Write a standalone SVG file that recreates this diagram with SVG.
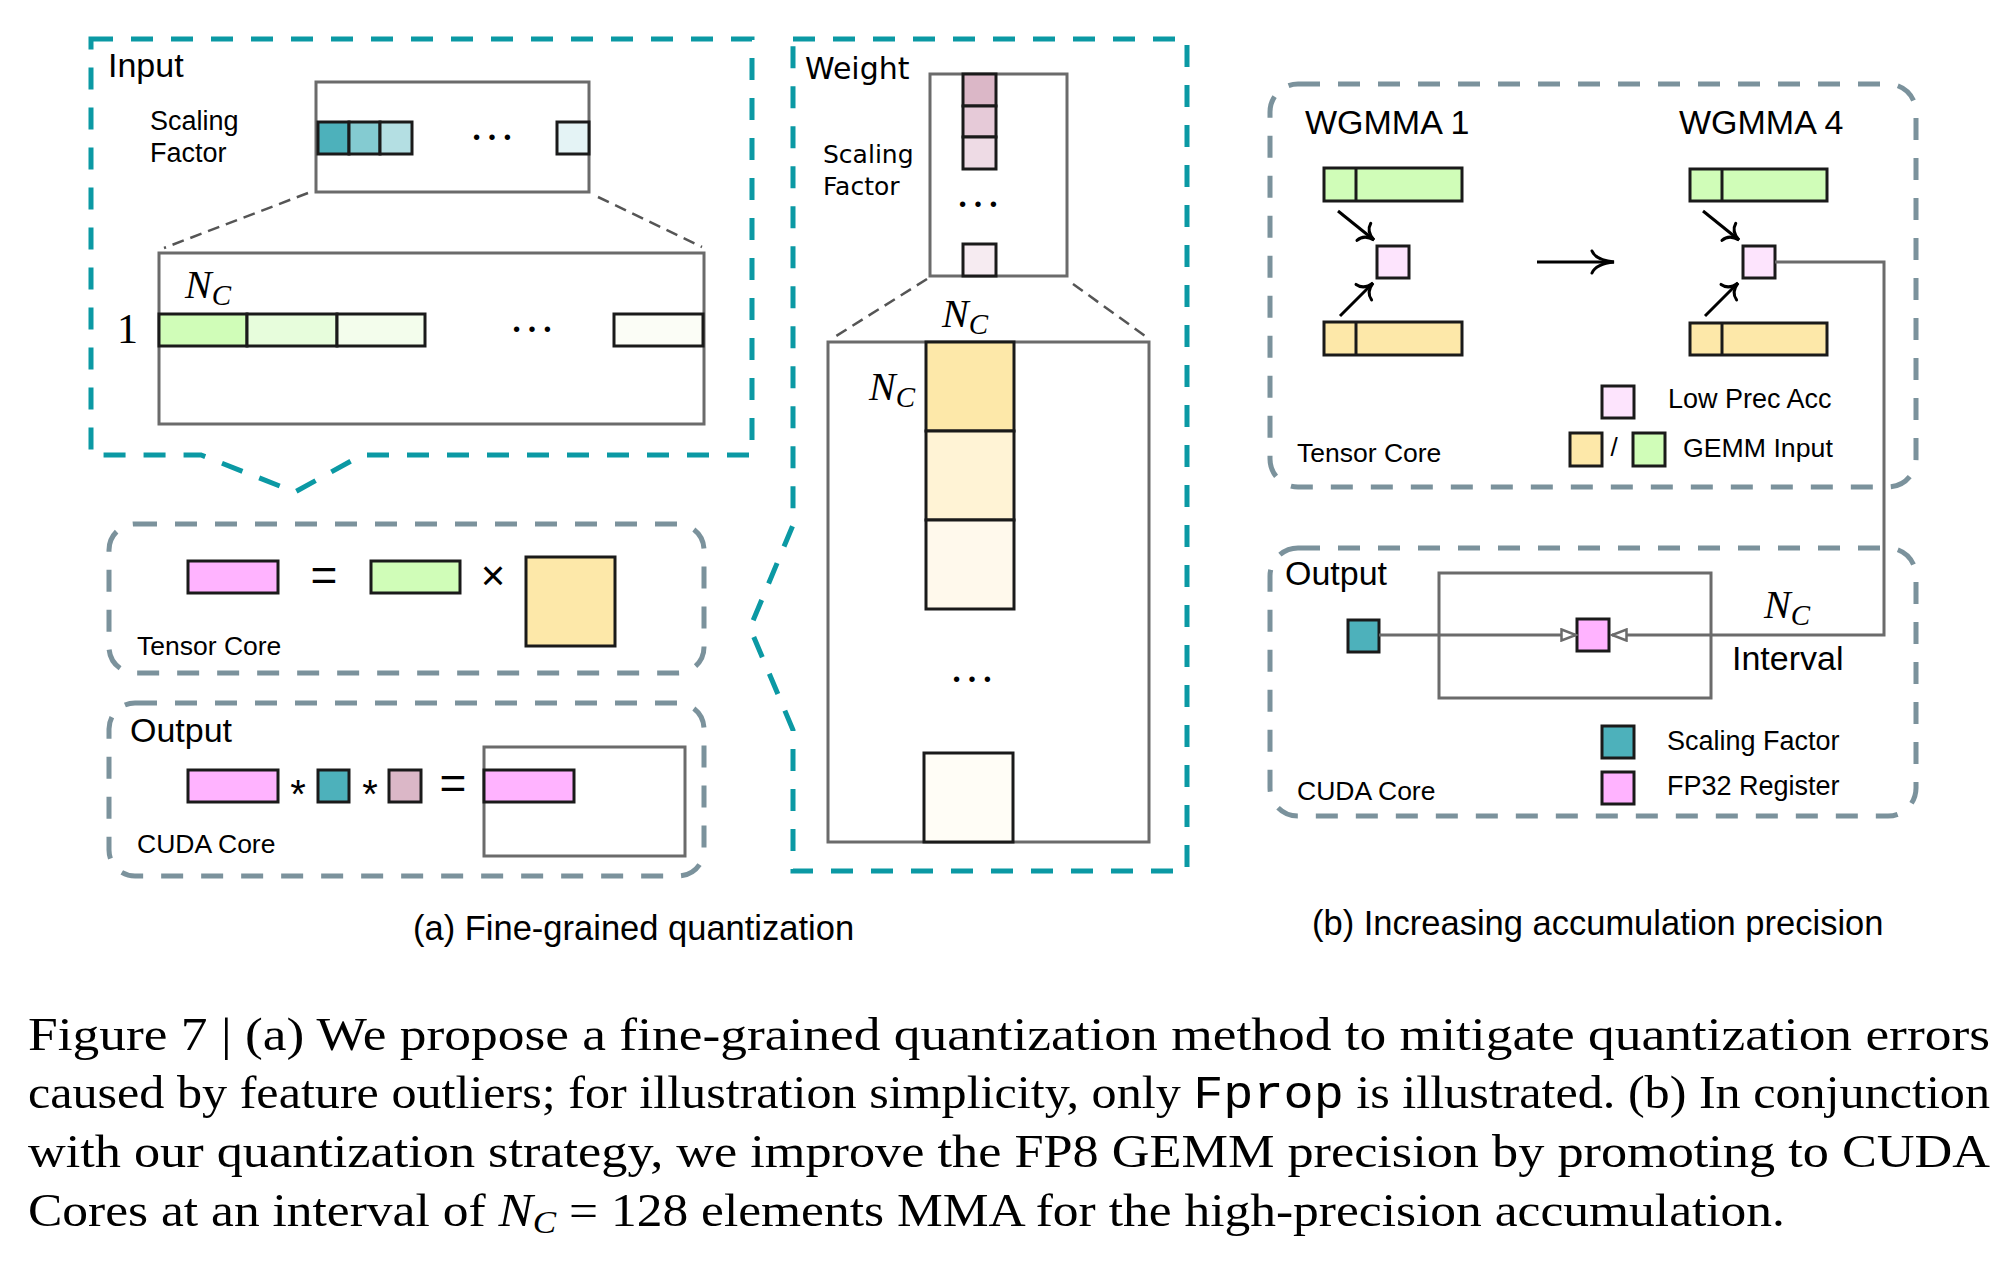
<svg xmlns="http://www.w3.org/2000/svg" width="2003" height="1261" viewBox="0 0 2003 1261">
<defs>
<style>
.teal{fill:none;stroke:#0b99a4;stroke-width:5;stroke-dasharray:22 18;}
.gdash{fill:none;stroke:#7b929c;stroke-width:5;stroke-dasharray:22 18;}
.frame{fill:none;stroke:#6b6b6b;stroke-width:3;}
.zl{fill:none;stroke:#555;stroke-width:2.5;stroke-dasharray:12 7;}
.cell{stroke:#1a1a1a;stroke-width:3;}
.conn{fill:none;stroke:#6b6b6b;stroke-width:3;}
.arr{fill:none;stroke:#000;stroke-width:3;}
.sans{font-family:"Liberation Sans",Arial,sans-serif;fill:#000;}
.geo{font-family:"DejaVu Sans",Verdana,sans-serif;fill:#000;}
.math{font-family:"Liberation Serif","Times New Roman",serif;font-style:italic;fill:#000;}
.dots{font-family:"Liberation Serif",serif;font-size:46px;text-anchor:middle;fill:#000;}
.cap{font-family:"Liberation Serif","Times New Roman",serif;font-size:47px;fill:#000;}
.sf1{fill:#4db1bb;}.sf2{fill:#84cbd1;}.sf3{fill:#b4dfe3;}.sf4{fill:#e4f3f5;}
.g1{fill:#d0fdb8;}.g2{fill:#e7fddc;}.g3{fill:#f3fdec;}.g4{fill:#fbfdf6;}
.y1{fill:#fde8a9;}.y2{fill:#fff3d5;}.y3{fill:#fff9ec;}.y4{fill:#fffdf6;}
.m1{fill:#dbb7c7;}.m2{fill:#e6cad8;}.m3{fill:#eedbe5;}.m4{fill:#f6ebf1;}
.pk{fill:#ffb3ff;}.lpk{fill:#fde4fd;}
</style>
<marker id="tri" markerUnits="userSpaceOnUse" markerWidth="18" markerHeight="14" viewBox="0 0 18 14" refX="16" refY="7" orient="auto">
<path d="M1.5,1.5 L16,7 L1.5,12.5 Z" fill="#fff" stroke="#6b6b6b" stroke-width="2.5"/>
</marker>
<marker id="cms" markerUnits="userSpaceOnUse" markerWidth="20" markerHeight="28" viewBox="-17 -14 20 28" refX="0" refY="0" orient="auto">
<path d="M-13,-11 C-12,-5 -7,-1 0,0 C-7,1 -12,5 -13,11" fill="none" stroke="#000" stroke-width="3" stroke-linecap="round"/>
</marker>
<marker id="cmb" markerUnits="userSpaceOnUse" markerWidth="28" markerHeight="28" viewBox="-25 -14 28 28" refX="0" refY="0" orient="auto">
<path d="M-22,-11 C-19,-4 -10,-1 0,0 C-10,1 -19,4 -22,11" fill="none" stroke="#000" stroke-width="3" stroke-linecap="round"/>
</marker>
</defs>
<rect x="0" y="0" width="2003" height="1261" fill="#fff"/>

<g id="input-block">
<path class="teal" d="M91,39 H752 V455 H362 L295,492 L201,455 H91 Z"/>
<text class="sans" x="108" y="77" font-size="34">Input</text>
<text class="sans" x="150" y="130" font-size="27">Scaling</text>
<text class="sans" x="150" y="162" font-size="27">Factor</text>
<rect class="frame" x="316" y="82" width="273" height="110"/>
<rect class="cell sf1" x="318" y="122" width="31" height="32"/>
<rect class="cell sf2" x="349" y="122" width="31" height="32"/>
<rect class="cell sf3" x="380" y="122" width="32" height="32"/>
<rect class="cell sf4" x="557" y="122" width="32" height="32"/>
<text class="dots" x="492" y="140">…</text>
<line class="zl" x1="308" y1="193" x2="164" y2="248"/>
<line class="zl" x1="598" y1="197" x2="702" y2="247"/>
<rect class="frame" x="159" y="253" width="545" height="171"/>
<text class="math" x="185" y="298" font-size="40">N<tspan font-size="29" dy="7">C</tspan></text>
<text x="117" y="343" font-family="Liberation Serif, serif" font-size="42">1</text>
<rect class="cell g1" x="159" y="314" width="88" height="32"/>
<rect class="cell g2" x="247" y="314" width="90" height="32"/>
<rect class="cell g3" x="337" y="314" width="88" height="32"/>
<rect class="cell g4" x="614" y="314" width="89" height="32"/>
<text class="dots" x="532" y="332">…</text>
</g>

<g id="tensor-core-a">
<rect class="gdash" x="109" y="524" width="595" height="149" rx="26"/>
<rect class="cell pk" x="188" y="561" width="90" height="32"/>
<text class="sans" x="324" y="591" font-size="46" text-anchor="middle">=</text>
<rect class="cell g1" x="371" y="561" width="89" height="32"/>
<text class="sans" x="493" y="590" font-size="42" text-anchor="middle">×</text>
<rect class="cell y1" x="526" y="557" width="89" height="89"/>
<text class="sans" x="137" y="655" font-size="26.5">Tensor Core</text>
</g>

<g id="output-a">
<rect class="gdash" x="109" y="703" width="595" height="173" rx="26"/>
<text class="sans" x="130" y="742" font-size="34">Output</text>
<rect class="cell pk" x="188" y="770" width="90" height="32"/>
<text class="sans" x="298" y="808" font-size="40" text-anchor="middle">*</text>
<rect class="cell sf1" x="318" y="770" width="31" height="32"/>
<text class="sans" x="370" y="808" font-size="40" text-anchor="middle">*</text>
<rect class="cell m1" x="389" y="770" width="32" height="32"/>
<text class="sans" x="453" y="799" font-size="46" text-anchor="middle">=</text>
<rect class="frame" x="484" y="747" width="201" height="109"/>
<rect class="cell pk" x="484" y="770" width="90" height="32"/>
<text class="sans" x="137" y="853" font-size="26.5">CUDA Core</text>
</g>

<g id="weight-block">
<path class="teal" d="M793,39 H1187 V871 H793 V730 L750,628 L793,525 Z"/>
<text class="geo" x="805" y="79" font-size="30">Weight</text>
<text class="geo" x="823" y="163" font-size="25">Scaling</text>
<text class="geo" x="823" y="195" font-size="25">Factor</text>
<rect class="frame" x="930" y="74" width="137" height="202"/>
<rect class="cell m1" x="963" y="74" width="33" height="32"/>
<rect class="cell m2" x="963" y="106" width="33" height="31"/>
<rect class="cell m3" x="963" y="137" width="33" height="32"/>
<rect class="cell m4" x="963" y="244" width="33" height="32"/>
<text class="dots" x="978" y="207">…</text>
<line class="zl" x1="927" y1="279" x2="833" y2="338"/>
<line class="zl" x1="1073" y1="284" x2="1148" y2="338"/>
<rect class="frame" x="828" y="342" width="321" height="500"/>
<text class="math" x="942" y="327" font-size="40">N<tspan font-size="29" dy="7">C</tspan></text>
<text class="math" x="869" y="400" font-size="40">N<tspan font-size="29" dy="7">C</tspan></text>
<rect class="cell y1" x="926" y="342" width="88" height="89"/>
<rect class="cell y2" x="926" y="431" width="88" height="89"/>
<rect class="cell y3" x="926" y="520" width="88" height="89"/>
<text class="dots" x="972" y="682">…</text>
<rect class="cell y4" x="924" y="753" width="89" height="89"/>
</g>

<g id="tensor-core-b">
<rect class="gdash" x="1270" y="84" width="646" height="403" rx="28"/>
<text class="sans" x="1305" y="134" font-size="34">WGMMA 1</text>
<text class="sans" x="1679" y="134" font-size="34">WGMMA 4</text>
<rect class="cell g1" x="1324" y="168" width="138" height="33"/>
<line class="cell" x1="1356" y1="168" x2="1356" y2="201"/>
<rect class="cell y1" x="1324" y="322" width="138" height="33"/>
<line class="cell" x1="1356" y1="322" x2="1356" y2="355"/>
<rect class="cell lpk" x="1377" y="246" width="32" height="32"/>
<rect class="cell g1" x="1690" y="169" width="137" height="32"/>
<line class="cell" x1="1722" y1="169" x2="1722" y2="201"/>
<rect class="cell y1" x="1690" y="323" width="137" height="32"/>
<line class="cell" x1="1722" y1="323" x2="1722" y2="355"/>
<rect class="cell lpk" x="1743" y="246" width="32" height="32"/>
<rect class="cell lpk" x="1602" y="386" width="32" height="32"/>
<text class="sans" x="1668" y="408" font-size="27">Low Prec Acc</text>
<rect class="cell y1" x="1570" y="433" width="32" height="33"/>
<text class="sans" x="1614" y="456" font-size="26" text-anchor="middle">/</text>
<rect class="cell g1" x="1633" y="433" width="32" height="33"/>
<text class="sans" x="1683" y="457" font-size="26.7">GEMM Input</text>
<text class="sans" x="1297" y="462" font-size="26.5">Tensor Core</text>
</g>

<g id="cuda-core-b">
<rect class="gdash" x="1270" y="548" width="646" height="268" rx="28"/>
<text class="sans" x="1285" y="585" font-size="34">Output</text>
<rect class="frame" x="1439" y="573" width="272" height="125"/>
<rect class="cell sf1" x="1348" y="620" width="31" height="32"/>
<rect class="cell pk" x="1577" y="619" width="32" height="32"/>
<text class="math" x="1764" y="618" font-size="40">N<tspan font-size="29" dy="7">C</tspan></text>
<text class="sans" x="1732" y="670" font-size="34">Interval</text>
<rect class="cell sf1" x="1602" y="726" width="32" height="32"/>
<text class="sans" x="1667" y="750" font-size="27">Scaling Factor</text>
<rect class="cell pk" x="1602" y="772" width="32" height="32"/>
<text class="sans" x="1667" y="795" font-size="27">FP32 Register</text>
<text class="sans" x="1297" y="800" font-size="26.5">CUDA Core</text>
</g>

<g id="connectors">
<line class="arr" x1="1338" y1="211" x2="1374" y2="240" marker-end="url(#cms)"/>
<line class="arr" x1="1340" y1="316" x2="1373" y2="283" marker-end="url(#cms)"/>
<line class="arr" x1="1537" y1="262" x2="1614" y2="262" marker-end="url(#cmb)"/>
<line class="arr" x1="1703" y1="211" x2="1739" y2="240" marker-end="url(#cms)"/>
<line class="arr" x1="1705" y1="316" x2="1738" y2="283" marker-end="url(#cms)"/>
<polyline class="conn" points="1775,262 1884,262 1884,635 1612,635" marker-end="url(#tri)"/>
<line class="conn" x1="1379" y1="635" x2="1576" y2="635" marker-end="url(#tri)"/>
</g>

<g id="captions">
<text class="sans" x="413" y="940" font-size="34.5">(a) Fine-grained quantization</text>
<text class="sans" x="1312" y="935" font-size="34.5">(b) Increasing accumulation precision</text>
<text class="cap" x="28" y="1050" textLength="1962" lengthAdjust="spacingAndGlyphs">Figure 7 | (a) We propose a fine-grained quantization method to mitigate quantization errors</text>
<text class="cap" x="28" y="1108" textLength="1962" lengthAdjust="spacingAndGlyphs">caused by feature outliers; for illustration simplicity, only <tspan font-family="Liberation Mono, monospace">Fprop</tspan> is illustrated. (b) In conjunction</text>
<text class="cap" x="28" y="1167" textLength="1962" lengthAdjust="spacingAndGlyphs">with our quantization strategy, we improve the FP8 GEMM precision by promoting to CUDA</text>
<text class="cap" x="28" y="1226" textLength="1757" lengthAdjust="spacingAndGlyphs">Cores at an interval of <tspan font-style="italic">N</tspan><tspan font-style="italic" font-size="32" dy="7">C</tspan><tspan dy="-7"> = 128 elements MMA for the high-precision accumulation.</tspan></text>
</g>
</svg>
